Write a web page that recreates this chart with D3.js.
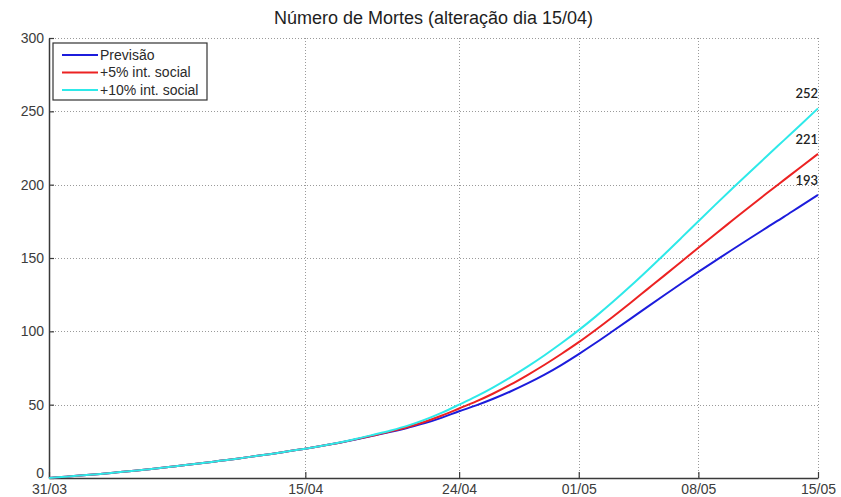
<!DOCTYPE html>
<html>
<head>
<meta charset="utf-8">
<script src="https://cdn.jsdelivr.net/npm/d3@7"></script>
<style>
  html, body { margin: 0; padding: 0; background: #fff; }
  svg { display: block; font-family: "Liberation Sans", Arial, sans-serif; }
</style>
</head>
<body>
<svg id="chart" width="841" height="497"></svg>
<script>
// Daily series, 31/03 (day 0) to 15/05 (day 45)
const startDate = "2020-03-31";

const previsao = [
  0, 0.9, 1.8, 2.8, 3.9, 5.0, 6.2, 7.5, 8.8, 10.2,
  11.7, 13.2, 14.8, 16.4, 18.2, 20.0, 22.0, 24.1, 26.4, 28.9,
  31.5, 34.3, 37.4, 41.2, 45.5, 49.5, 54.0, 59.0, 64.5, 70.5,
  77.2, 84.5, 92.2, 100.2, 108.3, 116.5, 124.6, 132.6, 140.5, 148.2,
  155.8, 163.3, 170.7, 178.0, 185.6, 193
];
const social5 = [
  0, 0.9, 1.8, 2.8, 3.9, 5.0, 6.2, 7.5, 8.8, 10.2,
  11.7, 13.2, 14.8, 16.4, 18.2, 20.0, 22.0, 24.1, 26.5, 29.1,
  31.8, 34.8, 38.4, 42.6, 47.4, 52.2, 57.6, 63.6, 70.2, 77.2,
  84.7, 92.6, 101.1, 110.0, 119.2, 128.6, 138.0, 147.5, 157.0, 166.4,
  175.7, 185.0, 194.1, 203.1, 212.1, 221
];
const social10 = [
  0, 0.9, 1.8, 2.8, 3.9, 5.0, 6.2, 7.5, 8.8, 10.2,
  11.7, 13.2, 14.8, 16.4, 18.2, 20.0, 22.0, 24.2, 26.7, 29.5,
  32.4, 35.7, 39.8, 44.6, 50.0, 55.6, 61.8, 68.6, 75.9, 83.7,
  92.0, 100.8, 110.2, 120.1, 130.5, 141.3, 152.4, 163.7, 175.1, 186.4,
  197.5, 208.5, 219.4, 230.2, 241.0, 252
];

const seriesNames = ["Previsão", "+5% int. social", "+10% int. social"];
const seriesColors = ["#1c1cdc", "#ec2222", "#2ee9e9"];
const xTickLabels = ["31/03", "15/04", "24/04", "01/05", "08/05", "15/05"];
const yTickValues = [0, 50, 100, 150, 200, 250, 300];
const titleText = "Número de Mortes (alteração dia 15/04)";

const svg = d3.select("#chart");
const plot = { left: 49, right: 818, top: 38, bottom: 478 };

const start = d3.utcParse("%Y-%m-%d")(startDate);
const dates = previsao.map((_, i) => d3.utcDay.offset(start, i));
const parseTick = d3.utcParse("%d/%m/%Y");
const tickDates = xTickLabels.map(t => parseTick(t + "/2020"));

const x = d3.scaleUtc()
  .domain([dates[0], dates[dates.length - 1]])
  .range([plot.left, plot.right]);
const y = d3.scaleLinear()
  .domain([0, 300])
  .range([plot.bottom, plot.top]);

// Dotted grid
const grid = svg.append("g")
  .attr("stroke", "#9a9a9a")
  .attr("stroke-width", 1)
  .attr("stroke-dasharray", "1,2");
grid.selectAll("line.h")
  .data(yTickValues.filter(v => v > 0))
  .join("line")
  .attr("x1", plot.left).attr("x2", plot.right)
  .attr("y1", d => Math.round(y(d)) + 0.5).attr("y2", d => Math.round(y(d)) + 0.5);
grid.selectAll("line.v")
  .data(tickDates.slice(1))
  .join("line")
  .attr("x1", d => Math.round(x(d)) + 0.5).attr("x2", d => Math.round(x(d)) + 0.5)
  .attr("y1", plot.top).attr("y2", plot.bottom);

// Axes
const fmt = d3.utcFormat("%d/%m");
const xAxis = svg.append("g")
  .attr("transform", `translate(0,${plot.bottom})`)
  .call(d3.axisBottom(x).tickValues(tickDates).tickFormat(fmt)
    .tickSizeInner(-6).tickSizeOuter(0).tickPadding(6));
const yAxis = svg.append("g")
  .attr("transform", `translate(${plot.left},0)`)
  .call(d3.axisLeft(y).tickValues(yTickValues)
    .tickSizeInner(-5).tickSizeOuter(0).tickPadding(5));

[xAxis, yAxis].forEach(g => {
  g.select(".domain").attr("stroke", "#3a3a3a").attr("stroke-width", 1.5);
  g.selectAll(".tick line").attr("stroke", "#3a3a3a").attr("stroke-width", 1.2);
  g.selectAll(".tick text")
    .attr("fill", "#3c3c3c")
    .style("font-family", "'Liberation Sans', Arial, sans-serif")
    .style("font-size", "14px");
});
// The zero label sits just above the first date label
yAxis.selectAll(".tick text").filter(d => d === 0).attr("dy", "-0.05em");

// Lines
const allSeries = [previsao, social5, social10];
const line = d3.line()
  .x((d, i) => x(dates[i]))
  .y(d => y(d))
  .curve(d3.curveMonotoneX);

svg.append("g")
  .selectAll("path")
  .data(allSeries)
  .join("path")
  .attr("fill", "none")
  .attr("stroke", (d, i) => seriesColors[i])
  .attr("stroke-width", 2)
  .attr("stroke-linejoin", "round")
  .attr("d", line);

// End-value labels
svg.append("g")
  .selectAll("text")
  .data(allSeries)
  .join("text")
  .attr("x", plot.right)
  .attr("y", d => y(d[d.length - 1]) - 10)
  .attr("text-anchor", "end")
  .attr("fill", "#222")
  .style("font-family", "Lato, 'Open Sans', sans-serif")
  .style("font-size", "13px")
  .style("font-weight", "600")
  .text(d => d3.format("d")(d[d.length - 1]));

// Title
svg.append("text")
  .attr("x", (plot.left + plot.right) / 2)
  .attr("y", 24)
  .attr("text-anchor", "middle")
  .attr("fill", "#1e1e1e")
  .style("font-size", "18px")
  .text(titleText);

// Legend
const legend = svg.append("g").attr("transform", "translate(53,43)");
legend.append("rect")
  .attr("width", 154).attr("height", 57)
  .attr("fill", "#fff")
  .attr("stroke", "#333").attr("stroke-width", 1.2);
const rows = legend.selectAll("g.row")
  .data(seriesNames)
  .join("g")
  .attr("transform", (d, i) => `translate(0,${12 + i * 17.5})`);
rows.append("line")
  .attr("x1", 9).attr("x2", 45)
  .attr("stroke", (d, i) => seriesColors[i])
  .attr("stroke-width", 2);
rows.append("text")
  .attr("x", 47)
  .attr("dy", "0.35em")
  .attr("fill", "#2a2a2a")
  .style("font-size", "14px")
  .text(d => d);
</script>
</body>
</html>
